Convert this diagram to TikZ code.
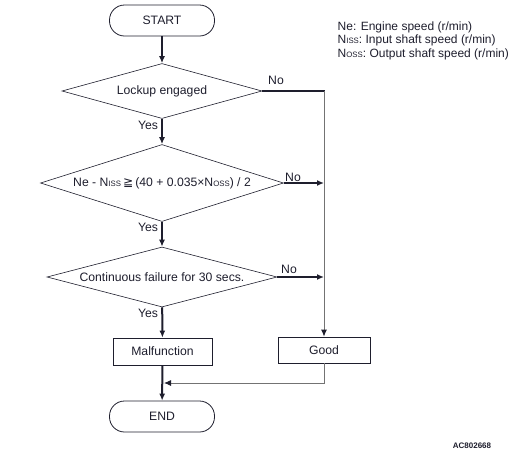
\documentclass[tikz,border=0pt]{standalone}
\usepackage{fontspec}
\setmainfont{Liberation Sans}
\newfontfamily\symfont{DejaVu Sans}
\usetikzlibrary{shapes.geometric}
\usetikzlibrary{arrows.meta}
\definecolor{ink}{RGB}{30,30,45}
\definecolor{wire}{RGB}{115,115,115}
\newcommand{\idx}[1]{{\fontsize{7.8}{8}\selectfont #1}}
\tikzset{
  term/.style={draw=ink, line width=0.8pt, rectangle, rounded corners=15pt,
    minimum width=105pt, minimum height=31pt, font=\fontsize{12.2}{14}\selectfont, text=ink},
  proc/.style={draw=ink, line width=0.8pt, rectangle,
    font=\fontsize{12.2}{14}\selectfont, text=ink},
  test/.style={draw=ink, line width=0.6pt, diamond, inner sep=0pt,
    font=\fontsize{12.2}{14}\selectfont, text=ink},
  flow/.style={draw=ink, line width=2pt, -{Latex[length=7pt,width=6pt]}},
  bar/.style={draw=ink, line width=2pt},
  back/.style={draw=wire, line width=0.9pt},
  tip/.style={-{Latex[length=7pt,width=6pt,color=ink]}},
  lbl/.style={font=\fontsize{12.2}{14}\selectfont, text=ink, inner sep=0pt},
  key/.style={font=\fontsize{12}{13}\selectfont, text=ink, anchor=base west, inner sep=0pt}
}
\begin{document}
\begin{tikzpicture}[x=1pt, y=-1pt]
    \useasboundingbox (0,0) rectangle (525,459);

    % main column
    \node[term] (start) at (162,20.5) {START};
    \node[test, aspect=3.6, minimum width=200pt, minimum height=55pt] (d1) at (162,91) {Lockup engaged};
    \node[test, aspect=3.2, minimum width=243pt, minimum height=77pt] (d2) at (162,183)
        {Ne - N\idx{ISS}\,{\symfont ≧}\,(40 + 0.035×N\idx{OSS}) / 2};
    \node[test, aspect=3.8, minimum width=230pt, minimum height=60pt] (d3) at (162,277) {Continuous failure for 30 secs.};
    \node[proc, minimum width=99pt, minimum height=27pt] (mal) at (162.5,351.5) {Malfunction};
    \node[term] (end) at (162,416.5) {END};

    % right column
    \node[proc, minimum width=92pt, minimum height=26pt] (good) at (324,350) {Good};

    % legend
    \node[key] (ne) at (337.5,30) {Ne: Engine speed (r/min)};
    \node[key] (niss) at (337.5,43.5) {N\idx{ISS}: Input shaft speed (r/min)};
    \node[key] (noss) at (337.5,57) {N\idx{OSS}: Output shaft speed (r/min)};
    \node[font=\bfseries\fontsize{8}{9}\selectfont, text=ink] (code) at (472,446) {AC802668};

    % connectors
    \draw[flow] (start) -- (d1);
    \draw[flow] (d1) -- (d2);
    \draw[flow] (d2) -- (d3);
    \draw[flow] (d3) -- (mal);
    \draw[flow] (mal) -- (end);
    \draw[bar] (d1.east) -- ([xshift=1pt]d1.east -| good.north) coordinate (j1);
    \draw[back, tip] (d1.east -| good.north) -- (good.north);
    \draw[flow] (d2.east) -- (d2.east -| good.north);
    \draw[flow] (d3.east) -- (d3.east -| good.north);
    \coordinate (merge) at (164,383);
    \draw[back, tip] (good.south) |- (merge);

    % branch labels
    \node[lbl] (no1) at (276,80) {No};
    \node[lbl] (yes1) at (148,125) {Yes};
    \node[lbl] (no2) at (293,177) {No};
    \node[lbl] (yes2) at (148,227) {Yes};
    \node[lbl] (no3) at (289,269) {No};
    \node[lbl] (yes3) at (148,313) {Yes};
\end{tikzpicture}
\end{document}
